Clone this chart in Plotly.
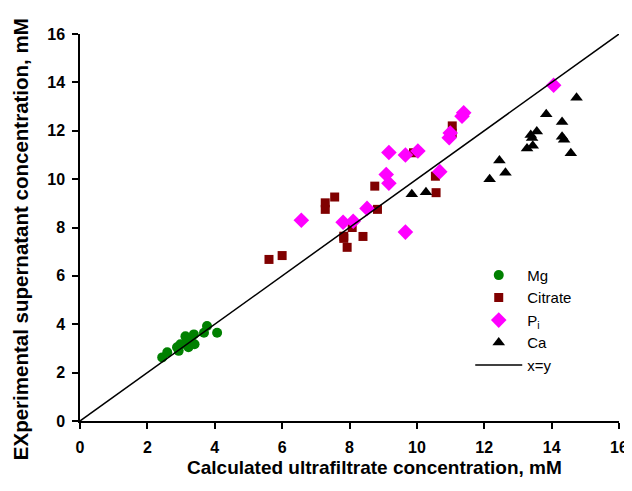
import plotly.graph_objects as go

# Mg
mg_x = [2.44, 2.59, 2.93, 2.98, 3.13, 3.13, 3.22, 3.38, 3.40, 3.68, 3.77, 4.07, 2.88, 3.29]
mg_y = [2.63, 2.84, 2.9, 3.17, 3.17, 3.5, 3.05, 3.58, 3.17, 3.65, 3.93, 3.65, 3.05, 3.4]

# Citrate
cit_x = [5.61, 6.0, 7.28, 7.28, 7.56, 7.83, 7.83, 7.93, 8.08, 8.40, 8.75, 8.83, 10.57, 10.55, 9.90, 11.05, 11.05]
cit_y = [6.68, 6.84, 9.02, 8.75, 9.26, 7.64, 7.55, 7.18, 8.0, 7.63, 9.71, 8.75, 9.44, 10.12, 11.09, 12.2, 11.9]

# Pi
pi_x = [6.57, 7.81, 8.11, 8.52, 9.09, 9.17, 9.66, 9.17, 9.66, 10.03, 10.68, 14.06, 11.39, 11.34, 10.99, 10.96]
pi_y = [8.3, 8.22, 8.26, 8.79, 10.19, 9.83, 7.81, 11.1, 11.0, 11.16, 10.31, 13.88, 12.74, 12.6, 11.91, 11.71]

# Ca
ca_x = [9.85, 10.27, 12.16, 12.45, 12.63, 13.27, 13.44, 13.38, 13.56, 13.42, 13.84, 14.31, 14.31, 14.37, 14.57, 14.74]
ca_y = [9.37, 9.46, 9.99, 10.77, 10.26, 11.27, 11.38, 11.82, 11.97, 11.7, 12.68, 12.36, 11.75, 11.63, 11.07, 13.36]

# x=y line
line_x = [0, 16]
line_y = [0, 16]

tick_vals = [0, 2, 4, 6, 8, 10, 12, 14, 16]

x_title = "<b>Calculated ultrafiltrate concentration, mM</b>"
y_title = "<b>EXperimental supernatant concentration, mM</b>"

fig = go.Figure()

fig.add_trace(go.Scatter(x=mg_x, y=mg_y, mode="markers", name="Mg",
                         marker=dict(symbol="circle", size=10, color="#008000")))
fig.add_trace(go.Scatter(x=cit_x, y=cit_y, mode="markers", name="Citrate",
                         marker=dict(symbol="square", size=9, color="#800000")))
fig.add_trace(go.Scatter(x=pi_x, y=pi_y, mode="markers", name="P<sub>i</sub>",
                         marker=dict(symbol="diamond", size=12, color="#FF00FF")))
fig.add_trace(go.Scatter(x=ca_x, y=ca_y, mode="markers", name="Ca",
                         marker=dict(symbol="triangle-up", size=11, color="#000000")))
fig.add_trace(go.Scatter(x=line_x, y=line_y, mode="lines", name="x=y",
                         line=dict(color="#000000", width=1.5)))

axis_style = dict(
    range=[0, 16],
    tickvals=tick_vals,
    showgrid=False,
    zeroline=False,
    showline=True,
    linecolor="#000000",
    linewidth=1.5,
    ticks="outside",
    ticklen=6,
    tickwidth=1.5,
    tickcolor="#000000",
    automargin=False,
    ticklabeloverflow="allow",
    tickfont=dict(family="Liberation Sans, Arial", size=16, color="#000000", weight="bold"),
)

# page body adds an 8px margin, keep the figure inside the window (no scrollbars)
fig.update_layout(
    width=624,
    height=475,
    autosize=False,
    plot_bgcolor="#FFFFFF",
    paper_bgcolor="#FFFFFF",
    margin=dict(l=71.5, r=13, t=26, b=62.3),
    font=dict(family="Liberation Sans, Arial", color="#000000"),
    xaxis=dict(axis_style, ticklabelstandoff=5),
    yaxis=dict(axis_style, ticklabelstandoff=4),
    legend=dict(x=0.724, y=0.419, xanchor="left", yanchor="top", itemwidth=47,
                font=dict(size=15), bgcolor="rgba(0,0,0,0)", tracegroupgap=0),
    annotations=[
        dict(text=x_title, xref="paper", yref="paper", x=0.546, y=-0.121,
             xanchor="center", yanchor="middle", showarrow=False, font=dict(size=19)),
        dict(text=y_title, xref="paper", yref="paper", x=-0.1112, y=0.47, textangle=-90,
             xanchor="center", yanchor="middle", showarrow=False, font=dict(size=20.5)),
    ],
)

fig.write_html("out.html")
